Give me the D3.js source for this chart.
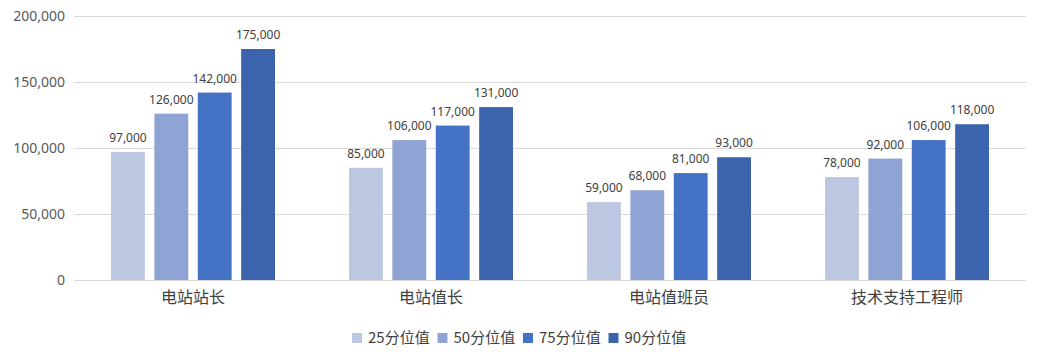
<!DOCTYPE html>
<html>
<head>
<meta charset="utf-8">
<script src="https://cdn.jsdelivr.net/npm/d3@7"></script>
<style>
  body { margin: 0; background: #fff; }
  text { font-family: "Noto Sans CJK SC", "Noto Sans", sans-serif; }
</style>
</head>
<body>
<div id="place"></div>
<script>
// categories and series
const categories = ["电站站长", "电站值长", "电站值班员", "技术支持工程师"];
const seriesNames = ["25分位值", "50分位值", "75分位值", "90分位值"];
const p25 = [97000, 85000, 59000, 78000];
const p50 = [126000, 106000, 68000, 92000];
const p75 = [142000, 117000, 81000, 106000];
const p90 = [175000, 131000, 93000, 118000];
const yTicks = [0, 50000, 100000, 150000, 200000];

const series = [p25, p50, p75, p90];
const colors = ["#bcc8e2", "#8fa4d4", "#4472c4", "#3b64ad"];

const W = 1040, H = 362;
const margin = { top: 16, right: 14, bottom: 82, left: 74 };
const width = W - margin.left - margin.right,
    height = H - margin.top - margin.bottom;

let svg = d3.select("#place").append("svg")
    .attr("width", W)
    .attr("height", H);

let g = svg.append("g")
    .attr("transform", "translate(" + margin.left + "," + margin.top + ")");

let x = d3.scaleBand().domain(categories).range([0, width]).paddingInner(0).paddingOuter(0);
let xs = d3.scaleBand().domain(d3.range(series.length))
    .range([0, 164]).paddingInner(0.22).paddingOuter(0);
let y = d3.scaleLinear().domain([0, 200000]).range([height, 0]);

// gridlines
g.selectAll(".grid")
    .data(yTicks)
    .join("line")
    .attr("x1", 0).attr("x2", width)
    .attr("y1", d => y(d) + 0.5).attr("y2", d => y(d) + 0.5)
    .attr("stroke", "#d9d9d9")
    .attr("stroke-width", 1);

// y axis labels
let yAxis = g.append("g").call(d3.axisLeft(y).tickValues(yTicks).tickFormat(d3.format(",")).tickSize(0).tickPadding(9));
yAxis.select(".domain").remove();
yAxis.selectAll("text")
    .attr("fill", "#595959")
    .style("font-size", "14px")
    .style("font-family", "'Noto Sans', 'DejaVu Sans', sans-serif");

// x axis labels
let xAxis = g.append("g")
    .attr("transform", "translate(0," + height + ")")
    .call(d3.axisBottom(x).tickSize(0).tickPadding(12));
xAxis.select(".domain").remove();
xAxis.selectAll("text")
    .attr("fill", "#404040")
    .style("font-size", "16px")
    .style("font-family", "'Noto Sans CJK SC', sans-serif");

// bars
let groups = g.selectAll(".cat")
    .data(categories)
    .join("g")
    .attr("transform", d => "translate(" + (x(d) + (x.bandwidth() - 164) / 2) + ",0)");

groups.each(function (cat, ci) {
    let sel = d3.select(this);
    series.forEach(function (s, si) {
        sel.append("rect")
            .attr("x", xs(si))
            .attr("y", y(s[ci]))
            .attr("width", xs.bandwidth())
            .attr("height", height - y(s[ci]))
            .attr("fill", colors[si]);
        sel.append("text")
            .attr("x", xs(si) + xs.bandwidth() / 2)
            .attr("y", y(s[ci]) - 10)
            .attr("text-anchor", "middle")
            .attr("fill", "#404040")
            .style("font-size", "12px")
            .style("font-family", "'Noto Sans', 'DejaVu Sans', sans-serif")
            .text(d3.format(",")(s[ci]));
    });
});

// legend
let legend = svg.append("g").attr("transform", "translate(352,338)");
seriesNames.forEach(function (name, i) {
    let item = legend.append("g").attr("transform", "translate(" + (i * 85.5) + ",0)");
    item.append("rect")
        .attr("x", 0).attr("y", -5)
        .attr("width", 10).attr("height", 10)
        .attr("fill", colors[i]);
    item.append("text")
        .attr("x", 16).attr("y", 0)
        .attr("dy", "0.35em")
        .attr("fill", "#404040")
        .style("font-size", "15px")
        .text(name);
});
</script>
</body>
</html>
